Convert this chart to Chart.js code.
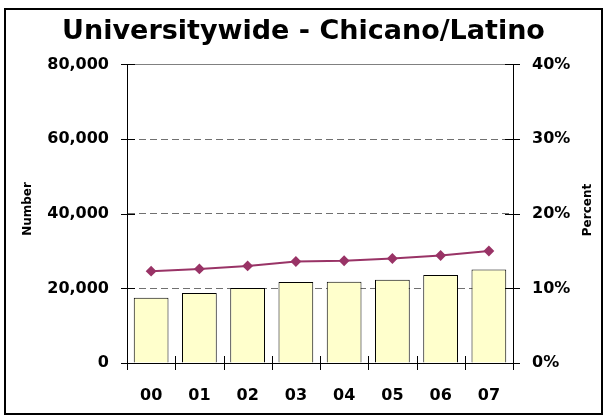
<!DOCTYPE html>
<html>
<head>
<meta charset="utf-8">
<script src="https://cdn.jsdelivr.net/npm/chart.js@4.4.1/dist/chart.umd.min.js"></script>
<style>
  html, body { margin: 0; padding: 0; background: #fff; }
  #wrap { width: 607px; height: 416px; }
</style>
</head>
<body>
<div id="wrap"><canvas id="chart" width="607" height="416"></canvas></div>
<script>
const years = ['00', '01', '02', '03', '04', '05', '06', '07'];
const headcount = [17500, 18750, 20100, 21700, 21800, 22300, 23550, 25050];
const percentOfTotal = [12.3, 12.6, 13.0, 13.6, 13.7, 14.0, 14.4, 15.0];
const numberTicks = [0, 20000, 40000, 60000, 80000];
const percentTicks = [0, 10, 20, 30, 40];

const FONT = '"DejaVu Sans", sans-serif';

// frame, crossing tick marks and the two axis titles (Excel style)
const chartFrame = {
    id: 'chartFrame',
    afterDraw(chart) {
        const { ctx, chartArea: area, scales } = chart;
        const line = (x1, y1, x2, y2) => {
            ctx.beginPath();
            ctx.moveTo(x1, y1);
            ctx.lineTo(x2, y2);
            ctx.stroke();
        };
        ctx.save();
        ctx.lineWidth = 1;
        ctx.strokeStyle = '#808080';
        line(area.left, Math.round(area.top) + 0.5, area.right, Math.round(area.top) + 0.5);

        ctx.strokeStyle = '#000';
        numberTicks.forEach((v) => {
            const y = Math.round(scales.y.getPixelForValue(v)) + 0.5;
            line(area.left - 6, y, area.left + 8, y);
        });
        percentTicks.forEach((v) => {
            const y = Math.round(scales.y1.getPixelForValue(v)) + 0.5;
            line(area.right - 8, y, area.right + 7, y);
        });
        for (let i = 0; i <= years.length; i++) {
            const x = Math.round(scales.x.getPixelForValue(i - 0.5)) + 0.5;
            line(x, area.bottom - 7, x, area.bottom + 7);
        }

        ctx.fillStyle = '#000';
        ctx.font = 'bold 12px ' + FONT;
        ctx.textAlign = 'center';
        ctx.textBaseline = 'middle';
        [['Number', 28, 209], ['Percent', 588, 210]].forEach(([text, x, y]) => {
            ctx.save();
            ctx.translate(x, y);
            ctx.rotate(-Math.PI / 2);
            ctx.fillText(text, 0, 0);
            ctx.restore();
        });

        ctx.lineWidth = 2;
        ctx.strokeRect(5, 9, 597, 405);
        ctx.restore();
    }
};

new Chart(document.getElementById('chart'), {
    type: 'bar',
    data: {
        labels: years,
        datasets: [
            {
                type: 'line',
                label: 'Percent',
                data: percentOfTotal,
                yAxisID: 'y1',
                borderColor: '#993366',
                backgroundColor: '#993366',
                borderWidth: 2,
                pointStyle: 'rectRot',
                pointRadius: 4,
                tension: 0,
                order: 0
            },
            {
                label: 'Number',
                data: headcount,
                yAxisID: 'y',
                backgroundColor: '#FFFFCC',
                borderColor: '#000',
                borderWidth: 1,
                categoryPercentage: 1,
                barPercentage: 0.72,
                order: 1
            }
        ]
    },
    options: {
        responsive: false,
        animation: false,
        layout: { padding: 0 },
        plugins: {
            legend: { display: false },
            tooltip: { enabled: false },
            title: {
                display: true,
                text: 'Universitywide - Chicano/Latino',
                color: '#000',
                font: { family: FONT, size: 27, weight: 'bold' },
                padding: { top: 16, bottom: 16 }
            }
        },
        scales: {
            x: {
                offset: true,
                grid: { display: false },
                border: { color: '#000', width: 1 },
                ticks: {
                    color: '#000',
                    font: { family: FONT, size: 16, weight: 'bold' },
                    padding: 15
                },
                afterFit(scale) { scale.height = 53; }
            },
            y: {
                position: 'left',
                min: 0,
                max: 80000,
                afterBuildTicks(scale) {
                    scale.ticks = numberTicks.map((value) => ({ value }));
                },
                grid: {
                    drawTicks: false,
                    color: (c) => (c.tick && c.tick.value > 0 && c.tick.value < 80000 ? '#707070' : 'rgba(0,0,0,0)')
                },
                border: { color: '#000', width: 1, dash: [7, 4] },
                ticks: {
                    color: '#000',
                    padding: 18,
                    font: { family: FONT, size: 16, weight: 'bold' },
                    callback: (v) => v.toLocaleString('en-US')
                },
                afterFit(scale) { scale.width = 127; }
            },
            y1: {
                position: 'right',
                min: 0,
                max: 40,
                afterBuildTicks(scale) {
                    scale.ticks = percentTicks.map((value) => ({ value }));
                },
                grid: { drawOnChartArea: false, drawTicks: false },
                border: { color: '#000', width: 1 },
                ticks: {
                    color: '#000',
                    padding: 19,
                    font: { family: FONT, size: 16, weight: 'bold' },
                    callback: (v) => v + '%'
                },
                afterFit(scale) { scale.width = 94; }
            }
        }
    },
    plugins: [chartFrame]
});
</script>
</body>
</html>
